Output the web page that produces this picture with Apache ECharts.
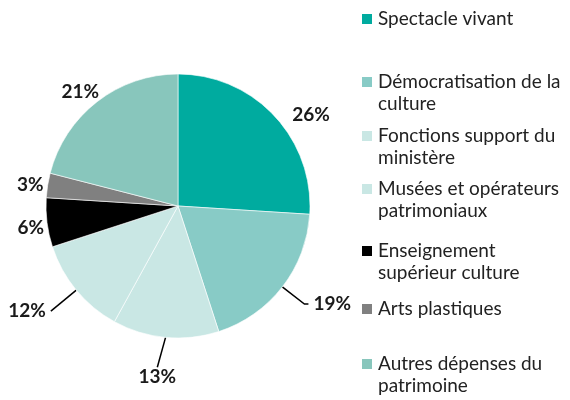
<!DOCTYPE html>
<html>
<head>
<meta charset="utf-8">
<script src="https://cdn.jsdelivr.net/npm/echarts@6/dist/echarts.min.js"></script>
<style>
  html, body { margin: 0; background: #fff; }
  #chart { width: 570px; height: 400px; }
</style>
</head>
<body>
<div id="chart"></div>
<script>
// data
const categories = ['Spectacle vivant', 'Démocratisation de la culture', 'Fonctions support du ministère',
  'Musées et opérateurs patrimoniaux', 'Enseignement supérieur culture', 'Arts plastiques', 'Autres dépenses du patrimoine']
const shares = [26, 19, 13, 12, 6, 3, 21]

// styling
const palette = ['#00ab9f', '#88cbc6', '#c9e7e4', '#c9e7e4', '#000000', '#808080', '#88c6bc']
const legendText = {
  'Démocratisation de la culture': 'Démocratisation de la\nculture',
  'Fonctions support du ministère': 'Fonctions support du\nministère',
  'Musées et opérateurs patrimoniaux': 'Musées et opérateurs\npatrimoniaux',
  'Enseignement supérieur culture': 'Enseignement\nsupérieur culture',
  'Autres dépenses du patrimoine': 'Autres dépenses du\npatrimoine'
}
const legendIconY = [19, 82, 136, 189, 251, 309, 364]
const leader = [
  {show: false, len: 4, len2: 10},
  {show: true, len: 28, len2: 4},
  {show: true, len: 24, len2: 0},
  {show: true, len: 33, len2: 0},
  {show: false, len: 2, len2: 2},
  {show: false, len: 2, len2: 2},
  {show: false, len: 8, len2: 0}
]
const nudge = [[0, 2], null, null, null, [6, 5], [5, 0], [12, -4]]
const font = 'Lato, "Open Sans", sans-serif'
const lh = 22

const legends = categories.map(function (name, i) {
  let twoLines = !!legendText[name]
  return {
    data: [name],
    left: 360,
    top: legendIconY[i] - (twoLines ? lh * 1.5 : lh / 2),
    orient: 'vertical',
    icon: 'rect',
    itemWidth: 12,
    itemHeight: 12,
    itemGap: 0,
    padding: 0,
    selectedMode: false,
    // a blank first line puts the icon level with the first text line
    formatter: function (n) { return legendText[n] ? '\n' + legendText[n] : n },
    textStyle: {
      fontFamily: font,
      fontSize: 19,
      color: '#222',
      lineHeight: lh
    }
  }
})

let option = {
  animation: false,
  color: palette,
  legend: legends,
  series: [
    {
      type: 'pie',
      center: [178, 206],
      radius: 132,
      startAngle: 90,
      clockwise: true,
      avoidLabelOverlap: false,
      silent: true,
      itemStyle: {borderColor: '#fff', borderWidth: 0.6},
      label: {
        position: 'outside',
        formatter: '{c}%',
        fontFamily: font,
        fontSize: 19,
        fontWeight: 'bold',
        color: '#1a1a1a'
      },
      labelLine: {lineStyle: {color: '#000', width: 1.5}},
      labelLayout: function (params) {
        let i = params.dataIndex
        if (i === 2) {
          let p = params.labelLinePoints
          return {x: p[p.length - 1][0] - 6, y: p[p.length - 1][1] + 6, align: 'center', verticalAlign: 'top'}
        }
        if (nudge[i]) return {dx: nudge[i][0], dy: nudge[i][1]}
        return {}
      },
      data: categories.map(function (name, i) {
        return {
          name: name,
          value: shares[i],
          labelLine: {
            show: leader[i].show,
            length: leader[i].len,
            length2: leader[i].len2
          }
        }
      })
    }
  ]
}
echarts.init(document.getElementById('chart')).setOption(option)
</script>
</body>
</html>
